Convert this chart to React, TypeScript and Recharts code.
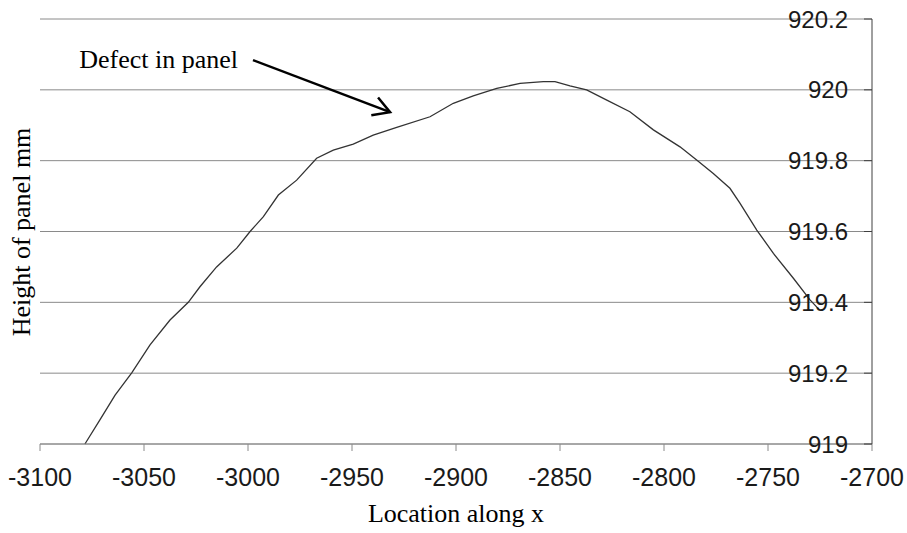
import { LineChart, Line, XAxis, YAxis, CartesianGrid, ReferenceLine } from "recharts";

const locationX = [
  -3078.4, -3071.2, -3063.9, -3055.9, -3047.1, -3037.5, -3028.7, -3023.1, -3015.1, -3005.4,
  -2999.0, -2992.6, -2985.4, -2976.6, -2967.0, -2959.0, -2949.4, -2939.8, -2928.5, -2912.5,
  -2901.3, -2891.7, -2880.4, -2869.2, -2858.0, -2852.4, -2845.2, -2837.2, -2827.5, -2816.4,
  -2805.1, -2792.3, -2784.3, -2776.3, -2768.3, -2763.5, -2755.4, -2747.4, -2737.8, -2729.8,
  -2725.5,
];

const heightMm = [
  919.0, 919.068, 919.138, 919.201, 919.28, 919.35, 919.4, 919.444, 919.5, 919.553,
  919.6, 919.642, 919.703, 919.745, 919.807, 919.83, 919.847, 919.872, 919.894, 919.924,
  919.962, 919.983, 920.004, 920.018, 920.023, 920.023, 920.011, 920.0, 919.971, 919.938,
  919.887, 919.839, 919.802, 919.764, 919.722, 919.68, 919.604, 919.538, 919.468, 919.407,
  919.38,
];

const xTicks = [-3100, -3050, -3000, -2950, -2900, -2850, -2800, -2750, -2700];
const yTicks = [919, 919.2, 919.4, 919.6, 919.8, 920, 920.2];

// annotation arrow, in data units
const arrowFrom = { x: -2997.6, y: 920.084 };
const arrowTo = { x: -2931.7, y: 919.937 };

const data = locationX.map((x, i) => ({ x, h: heightMm[i] }));

const tickFont = { fontFamily: "Liberation Sans, Arial, sans-serif", fill: "#1a1a1a" };

const ArrowNote = (props: any) => {
  const { x1, y1, x2, y2 } = props;
  const ang = Math.atan2(y2 - y1, x2 - x1);
  const len = 19;
  const spread = Math.PI / 6;
  const hx1 = x2 - len * Math.cos(ang - spread);
  const hy1 = y2 - len * Math.sin(ang - spread);
  const hx2 = x2 - len * Math.cos(ang + spread);
  const hy2 = y2 - len * Math.sin(ang + spread);
  return (
    <g>
      <text
        x={x1 - 15}
        y={y1 + 8}
        textAnchor="end"
        fontFamily="Liberation Serif, Times New Roman, serif"
        fontSize={26}
        fill="#000"
      >
        Defect in panel
      </text>
      <line x1={x1} y1={y1} x2={x2} y2={y2} stroke="#000" strokeWidth={2.5} />
      <polyline
        points={`${hx1},${hy1} ${x2},${y2} ${hx2},${hy2}`}
        fill="none"
        stroke="#000"
        strokeWidth={2.5}
      />
    </g>
  );
};

export default function App() {
  return (
    <div style={{ position: "absolute", left: 0, top: 0, width: 907, height: 533, background: "#fff" }}>
      <LineChart
        width={907}
        height={533}
        data={data}
        margin={{ top: 19, right: 35, bottom: 29, left: 40 }}
      >
        <CartesianGrid vertical={false} stroke="#8a8a8a" />
        <XAxis
          dataKey="x"
          type="number"
          domain={[-3100, -2700]}
          ticks={xTicks}
          interval={0}
          height={60}
          tickSize={7}
          tickMargin={17}
          stroke="#8a8a8a"
          tick={{ ...tickFont, fontSize: 25 }}
          label={{
            value: "Location along x",
            position: "bottom",
            offset: 0,
            fontFamily: "Liberation Serif, Times New Roman, serif",
            fontSize: 26,
            fill: "#000",
          }}
        />
        <YAxis
          type="number"
          orientation="right"
          mirror
          width={60}
          domain={[919, 920.2]}
          ticks={yTicks}
          interval={0}
          tickSize={8}
          tickMargin={16}
          stroke="#404040"
          tick={{ ...tickFont, fontSize: 24 }}
          tickFormatter={(v: number) => String(Number(v.toFixed(1)))}
        />
        <ReferenceLine
          segment={[arrowFrom, arrowTo]}
          shape={(p: any) => <ArrowNote {...p} />}
        />
        <Line
          type="linear"
          dataKey="h"
          stroke="#333"
          strokeWidth={1.3}
          dot={false}
          isAnimationActive={false}
        />
      </LineChart>
      <div
        style={{
          position: "absolute",
          left: 22,
          top: 232,
          transform: "translate(-50%, -50%) rotate(-90deg)",
          whiteSpace: "nowrap",
          fontFamily: "Liberation Serif, Times New Roman, serif",
          fontSize: 26,
          color: "#000",
          lineHeight: 1,
        }}
      >
        Height of panel mm
      </div>
    </div>
  );
}
